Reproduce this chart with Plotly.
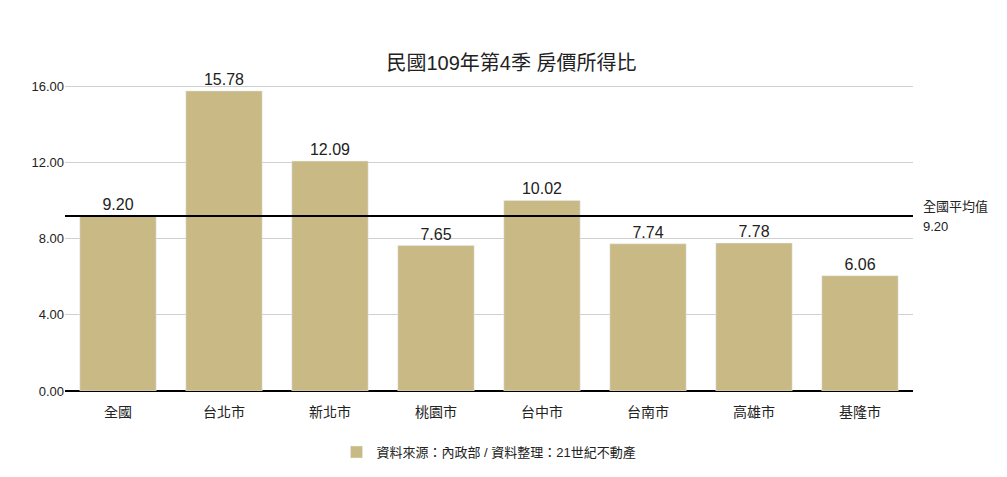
import plotly.graph_objects as go

regions = ["全國", "台北市", "新北市", "桃園市", "台中市", "台南市", "高雄市", "基隆市"]
ratios = [9.20, 15.78, 12.09, 7.65, 10.02, 7.74, 7.78, 6.06]
national_avg = 9.20
source_label = "資料來源：內政部 / 資料整理：21世紀不動產"

font = "Liberation Sans, Noto Sans CJK TC, sans-serif"

fig = go.Figure(go.Bar(
    x=regions, y=ratios, name=source_label,
    marker_color="#C9BA85", width=0.72,
    text=[f"{v:.2f}" for v in ratios], textposition="outside",
    textfont=dict(size=16, color="#222"), cliponaxis=False,
))

fig.add_hline(y=national_avg, line=dict(color="black", width=2))
fig.add_annotation(x=1.01, xref="paper", y=national_avg, yref="y", yshift=10,
                   text="全國平均值", showarrow=False,
                   xanchor="left", font=dict(size=13, color="#222"))
fig.add_annotation(x=1.01, xref="paper", y=national_avg, yref="y", yshift=-10,
                   text=f"{national_avg:.2f}", showarrow=False,
                   xanchor="left", font=dict(size=13, color="#222"))

fig.update_layout(
    width=1007, height=477,
    font=dict(family=font, color="#222"),
    title=dict(text="民國109年第4季 房價所得比", x=0.5, y=0.9, xanchor="center",
               font=dict(size=20, color="#222")),
    plot_bgcolor="white", paper_bgcolor="white",
    margin=dict(l=57, r=102, t=54, b=94),
    showlegend=True,
    legend=dict(orientation="h", x=0.5, xanchor="center", y=-0.14, yanchor="top",
                font=dict(size=13)),
    xaxis=dict(tickfont=dict(size=14), showline=False, ticks="outside",
               ticklen=8, tickcolor="white"),
    yaxis=dict(range=[0, 17.3], tickvals=[0, 4, 8, 12, 16], tickformat=".2f",
               gridcolor="#d0d0d0", zeroline=True, zerolinecolor="black",
               zerolinewidth=2, tickfont=dict(size=13)),
)

fig.write_html("out.html")
